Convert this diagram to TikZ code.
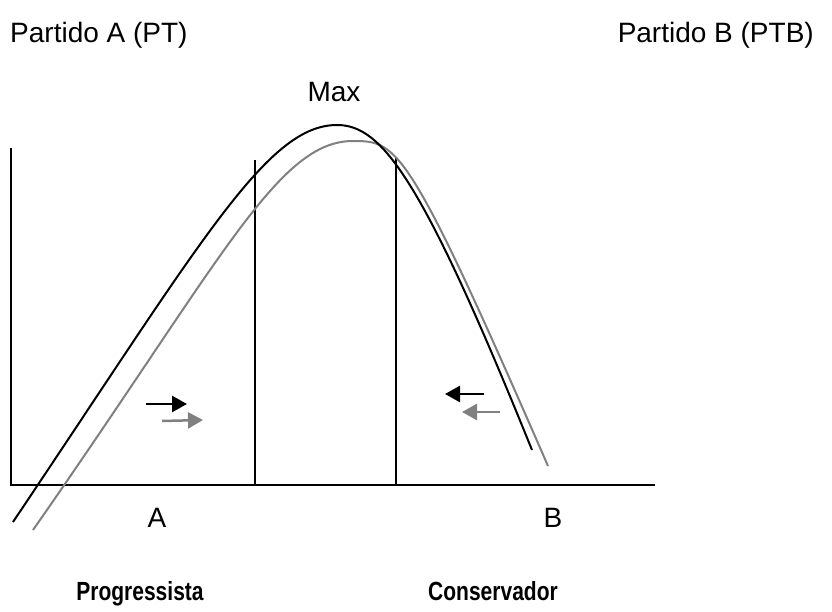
\documentclass[tikz,border=0pt]{standalone}
\usepackage{fontspec}
\setmainfont{Liberation Sans}
\usetikzlibrary{arrows.meta}
\tikzstyle{lbl}=[inner sep=0pt,anchor=base,font=\fontsize{28}{34}\selectfont]
\tikzstyle{blbl}=[inner sep=0pt,anchor=base,font=\bfseries\fontsize{21}{25}\selectfont]
\tikzstyle{axis}=[line width=2pt]
\tikzstyle{oldc}=[line width=2pt,black]
\tikzstyle{newc}=[line width=2pt,black!50]
\tikzstyle{move}=[-{Triangle[length=15pt,width=16pt]}, line width=2.5pt]

\begin{document}
\begin{tikzpicture}[x=1pt,y=-1pt]
\useasboundingbox (0,0) rectangle (832,612);
% labels
\node[lbl,anchor=base west] (pa) at (10,43) {Partido A (PT)};
\node[lbl,anchor=base east] (pb) at (814,43) {Partido B (PTB)};
\node[lbl] (max) at (334,102) {Max};
\node[lbl] (A) at (157,527) {A};
\node[lbl] (B) at (553,527) {B};
\node[blbl] (prog) at (140,600) {\scalebox{1}[1.25]{Progressista}};
\node[blbl] (cons) at (493,600) {\scalebox{1}[1.25]{Conservador}};
% axes
\coordinate (O) at (11,485);
\coordinate (ytop) at (11,148);
\coordinate (xend) at (655,485);
\draw[axis] (ytop)--(O)--(xend);
\coordinate (la) at (255,160); \coordinate (la0) at (255,485);
\coordinate (lb) at (396,157); \coordinate (lb0) at (396,485);
\draw[axis] (la)--(la0);\draw[axis] (lb)--(lb0);
% curves
\draw[newc] (33,530) .. controls (223,258) and (278,141) .. (353,141)
  .. controls (398,141) and (408,145) .. (548,466);
\draw[oldc] (13,522) .. controls (203,239) and (267,125) .. (337,125)
  .. controls (382,125) and (422,178) .. (532,450);
% arrows
\coordinate (r1) at (146,404); \coordinate (r1e) at (187,404);
\coordinate (r2) at (162,421); \coordinate (r2e) at (203,420);
\coordinate (l1) at (484,394); \coordinate (l1e) at (445,394);
\coordinate (l2) at (500,412); \coordinate (l2e) at (462,412);
\draw[move,black](r1)--(r1e);\draw[move,black!50](r2)--(r2e);
\draw[move,black](l1)--(l1e);\draw[move,black!50](l2)--(l2e);
\end{tikzpicture}
\end{document}
